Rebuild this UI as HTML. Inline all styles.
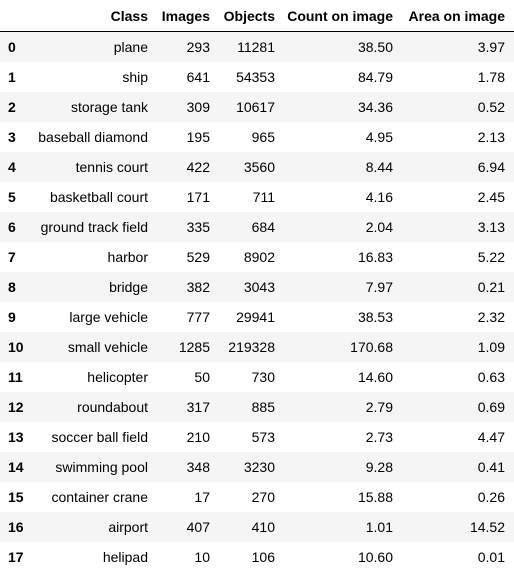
<!DOCTYPE html>
<html><head><meta charset="utf-8"><style>
html,body{margin:0;padding:0;background:#fff;width:514px;height:573px;overflow:hidden}
table{border-collapse:collapse;font-family:"Liberation Sans",sans-serif;font-size:14px;color:#000;table-layout:fixed;width:514px}
th,td{padding:0 8px 0 0;text-align:right;white-space:nowrap}
thead th{height:31px;border-bottom:1px solid #000;font-weight:bold}
tbody td,tbody th{height:30px}
tbody th{text-align:left;padding-left:8px;font-weight:bold}
tbody tr:nth-child(odd){background:#f5f5f5}
</style></head><body>
<table>
<colgroup><col style="width:30px"><col style="width:126px"><col style="width:62px"><col style="width:65px"><col style="width:118px"><col style="width:113px"></colgroup>
<thead><tr><th></th><th>Class</th><th>Images</th><th>Objects</th><th>Count on image</th><th style="padding-right:9px">Area on image</th></tr></thead>
<tbody id="tb"></tbody>
</table>
<script>
const classes=["plane","ship","storage tank","baseball diamond","tennis court","basketball court","ground track field","harbor","bridge","large vehicle","small vehicle","helicopter","roundabout","soccer ball field","swimming pool","container crane","airport","helipad"];
const images=[293,641,309,195,422,171,335,529,382,777,1285,50,317,210,348,17,407,10];
const objects=[11281,54353,10617,965,3560,711,684,8902,3043,29941,219328,730,885,573,3230,270,410,106];
const counts=["38.50","84.79","34.36","4.95","8.44","4.16","2.04","16.83","7.97","38.53","170.68","14.60","2.79","2.73","9.28","15.88","1.01","10.60"];
const areas=["3.97","1.78","0.52","2.13","6.94","2.45","3.13","5.22","0.21","2.32","1.09","0.63","0.69","4.47","0.41","0.26","14.52","0.01"];
const tb=document.getElementById('tb');
classes.forEach((c,i)=>{
  const tr=document.createElement('tr');
  
  
  const th=document.createElement('th');th.textContent=i;
  
  
  tr.appendChild(th);
  const vals=[c,images[i],objects[i],counts[i],areas[i]];
  const names=['class-cell','images-cell','objects-cell','count-cell','area-cell'];
  vals.forEach((v,j)=>{
    const td=document.createElement('td');td.textContent=v;
    
    
    if(j===4)td.style.paddingRight='9px';
    tr.appendChild(td);
  });
  tb.appendChild(tr);
});
</script>
</body></html>
